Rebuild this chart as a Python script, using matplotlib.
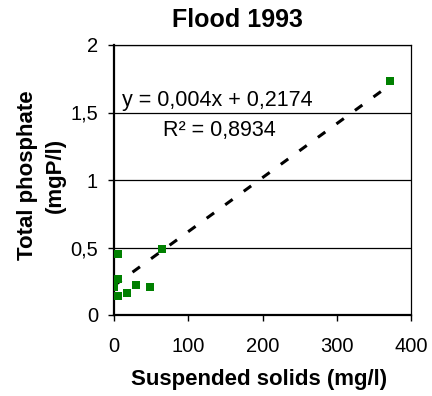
import numpy as np
import matplotlib.pyplot as plt

plt.rcParams['font.family'] = ['Liberation Sans', 'DejaVu Sans']

# Flood 1993 data
solidos = [2, 5, 64, 5, 0, 5, 18, 29, 48, 372]
fosfato = [0.45, 0.45, 0.49, 0.27, 0.21, 0.14, 0.165, 0.225, 0.21, 1.735]
pendiente = 0.004
intercepto = 0.2174
r2 = 0.8934

x_ticks = [0, 100, 200, 300, 400]
y_ticks = [0, 0.5, 1, 1.5, 2]
y_labels = ["0", "0,5", "1", "1,5", "2"]

fig = plt.figure(figsize=(4.32, 3.96), dpi=100)
ax = fig.add_axes([114 / 432, 1 - 315 / 396, 297 / 432, 270 / 396])

# gridlines horizontales
for y in y_ticks[1:]:
  ax.axhline(y, color="black", lw=0.9, zorder=1)

# linea de tendencia
xt = np.linspace(0, max(solidos), 50)
ax.plot(xt, pendiente * xt + intercepto, color="black", lw=2.2, ls=(0, (3, 4.5)), zorder=2)

ax.scatter(solidos, fosfato, marker="s", s=32, color="#008000", zorder=3, linewidths=0)

ax.set_xlim(0, 400)
ax.set_ylim(0, 2)
ax.set_xticks(x_ticks)
ax.set_yticks(y_ticks)
ax.set_yticklabels(y_labels)
ax.tick_params(labelsize=14.5, direction="out", length=4, width=1)
ax.tick_params(axis="y", pad=7.5)
ax.tick_params(axis="x", pad=12)
for s in ax.spines.values():
  s.set_linewidth(0.9)
ax.spines["left"].set_linewidth(1.6)
ax.spines["bottom"].set_linewidth(1.6)

# titulos
fig.text(237 / 432, 1 - 20 / 396, "Flood 1993", fontsize=18, fontweight="bold", ha="center", va="center")
fig.text(259 / 432, 1 - 380 / 396, "Suspended solids (mg/l)", fontsize=16, fontweight="bold", ha="center", va="center")
fig.text(28 / 432, 1 - 175 / 396, "Total phosphate", fontsize=16, fontweight="bold", ha="center", va="center", rotation=90)
fig.text(55 / 432, 1 - 175 / 396, "(mgP/l)", fontsize=16, fontweight="bold", ha="center", va="center", rotation=90)

ax.text(10.5, 1.59, "y = 0,004x + 0,2174", fontsize=15.5, va="center", ha="left")
ax.text(66, 1.37, "R² = 0,8934", fontsize=15.5, va="center", ha="left")

fig.savefig("out.png", dpi=100)
